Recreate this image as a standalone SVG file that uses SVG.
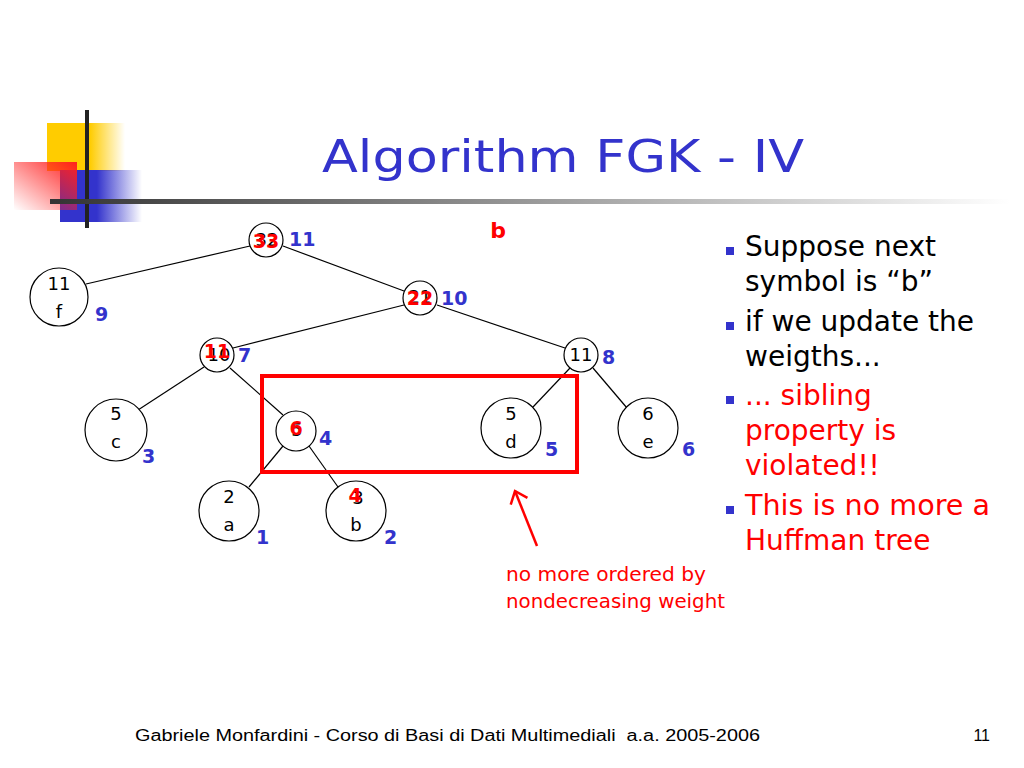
<svg xmlns="http://www.w3.org/2000/svg" width="1024" height="768" viewBox="0 0 1024 768">
<defs>
<linearGradient id="gY" x1="0" y1="0" x2="1" y2="0"><stop offset="0" stop-color="#FFCC00"/><stop offset="0.55" stop-color="#FFCC00"/><stop offset="1" stop-color="#FFCC00" stop-opacity="0"/></linearGradient>
<linearGradient id="gB" x1="0" y1="0" x2="1" y2="0"><stop offset="0" stop-color="#3333CC"/><stop offset="0.45" stop-color="#3333CC"/><stop offset="1" stop-color="#3333CC" stop-opacity="0"/></linearGradient>
<linearGradient id="gR" x1="1" y1="0" x2="0" y2="1"><stop offset="0" stop-color="#FF2020"/><stop offset="1" stop-color="#FF2020" stop-opacity="0"/></linearGradient>
<linearGradient id="gL" x1="0" y1="0" x2="1" y2="0"><stop offset="0" stop-color="#333333"/><stop offset="0.5" stop-color="#999999"/><stop offset="1" stop-color="#FFFFFF"/></linearGradient>
<marker id="ah" viewBox="0 0 24 24" refX="12" refY="12" markerWidth="24" markerHeight="24" markerUnits="userSpaceOnUse" orient="auto"><path d="M1,3 L12,12 L1,21" fill="none" stroke="#FF0000" stroke-width="2.5"/></marker>
<style>
.nd{fill:#fff;stroke:#000;stroke-width:1.2}
.lb{font-family:"DejaVu Sans",sans-serif;font-size:18px;fill:#000;text-anchor:middle}
.rd{font-family:"DejaVu Sans",sans-serif;font-size:19px;font-weight:bold;fill:#FF0000;text-anchor:middle}
.bl{font-family:"DejaVu Sans",sans-serif;font-size:19px;font-weight:bold;fill:#3333CC}
.ed{stroke:#000;stroke-width:1.2;fill:none}
.bt{font-family:"DejaVu Sans",sans-serif;font-size:28px}
.bq{fill:#3333CC}
</style>
</defs>
<rect width="1024" height="768" fill="#fff"/>
<g id="logo">
<rect x="47" y="123" width="78" height="48" fill="url(#gY)"/>
<rect x="60" y="170" width="82" height="52" fill="url(#gB)"/>
<rect x="14" y="162" width="63" height="48" fill="url(#gR)"/>
<rect x="85" y="110" width="4" height="118" fill="#222"/>
</g>
<rect x="50" y="199" width="960" height="5" fill="url(#gL)"/>
<text x="563" y="172" font-family="DejaVu Sans, sans-serif" font-size="44" fill="#3333CC" text-anchor="middle" textLength="482" lengthAdjust="spacingAndGlyphs">Algorithm FGK - IV</text>
<text x="498" y="238" font-family="DejaVu Sans, sans-serif" font-size="22" font-weight="bold" fill="#FF0000" text-anchor="middle">b</text>
<g id="connectors">
<line class="ed" x1="250" y1="246" x2="86" y2="284"/>
<line class="ed" x1="283" y1="246" x2="404" y2="291"/>
<line class="ed" x1="404" y1="305" x2="233" y2="348"/>
<line class="ed" x1="437" y1="305" x2="565" y2="348"/>
<line class="ed" x1="204" y1="367" x2="138" y2="410"/>
<line class="ed" x1="230" y1="368" x2="283" y2="415"/>
<line class="ed" x1="283" y1="446" x2="249" y2="487"/>
<line class="ed" x1="309" y1="446" x2="338" y2="487"/>
<line class="ed" x1="570" y1="368" x2="533" y2="407"/>
<line class="ed" x1="593" y1="368" x2="627" y2="408"/>
</g>
<g id="n_root"><circle class="nd" cx="266" cy="240" r="17"/><text class="lb" x="267" y="246">32</text><text class="rd" x="266" y="248">33</text><text class="bl" x="289" y="246">11</text></g>
<g id="n_f"><circle class="nd" cx="59" cy="297" r="29"/><text class="lb" x="59" y="290">11</text><text class="lb" x="59" y="318">f</text><text class="bl" x="95" y="321">9</text></g>
<g id="n_21"><circle class="nd" cx="420" cy="298" r="17"/><text class="lb" x="420" y="303">21</text><text class="rd" x="420" y="305">22</text><text class="bl" x="441" y="305">10</text></g>
<g id="n_11L"><circle class="nd" cx="217" cy="355" r="17"/><text class="lb" x="219" y="361">10</text><text class="rd" x="217" y="358">11</text><text class="bl" x="238" y="362">7</text></g>
<g id="n_11R"><circle class="nd" cx="581" cy="355" r="17"/><text class="lb" x="581" y="361">11</text><text class="bl" x="602" y="364">8</text></g>
<g id="n_c"><circle class="nd" cx="116" cy="430" r="31"/><text class="lb" x="116" y="420">5</text><text class="lb" x="116" y="448">c</text><text class="bl" x="142" y="463">3</text></g>
<g id="n_6"><circle class="nd" cx="296" cy="431" r="20"/><text class="lb" x="297" y="436">5</text><text class="rd" x="296" y="435">6</text><text class="bl" x="319" y="445">4</text></g>
<g id="n_d"><circle class="nd" cx="511" cy="428" r="30"/><text class="lb" x="511" y="420">5</text><text class="lb" x="511" y="448">d</text><text class="bl" x="545" y="456">5</text></g>
<g id="n_e"><circle class="nd" cx="648" cy="428" r="30"/><text class="lb" x="648" y="420">6</text><text class="lb" x="648" y="448">e</text><text class="bl" x="682" y="456">6</text></g>
<g id="n_a"><circle class="nd" cx="229" cy="511" r="30"/><text class="lb" x="229" y="503">2</text><text class="lb" x="229" y="531">a</text><text class="bl" x="256" y="544">1</text></g>
<g id="n_b"><circle class="nd" cx="356" cy="511" r="30"/><text class="lb" x="358" y="504">3</text><text class="rd" x="355" y="502">4</text><text class="lb" x="356" y="531">b</text><text class="bl" x="384" y="544">2</text></g>
<rect x="262" y="376" width="315" height="96" fill="none" stroke="#FF0000" stroke-width="4"/>
<line x1="537" y1="546" x2="515" y2="491" stroke="#FF0000" stroke-width="2.5" marker-end="url(#ah)"/>
<g font-family="DejaVu Sans, sans-serif" font-size="19" fill="#FF0000">
<text x="506" y="581" textLength="200" lengthAdjust="spacingAndGlyphs">no more ordered by</text>
<text x="506" y="608" textLength="219" lengthAdjust="spacingAndGlyphs">nondecreasing weight</text>
</g>
<g id="bullets">
<rect class="bq" x="726" y="247" width="8" height="8"/>
<rect class="bq" x="726" y="322" width="8" height="8"/>
<rect class="bq" x="726" y="396" width="8" height="8"/>
<rect class="bq" x="726" y="506" width="8" height="8"/>
<text class="bt" x="745" y="256" fill="#000">Suppose next</text>
<text class="bt" x="745" y="291" fill="#000">symbol is “b”</text>
<text class="bt" x="745" y="331" fill="#000">if we update the</text>
<text class="bt" x="745" y="366" fill="#000">weigths...</text>
<text class="bt" x="745" y="405" fill="#FF0000">... sibling</text>
<text class="bt" x="745" y="440" fill="#FF0000">property is</text>
<text class="bt" x="745" y="475" fill="#FF0000">violated!!</text>
<text class="bt" x="745" y="515" fill="#FF0000" textLength="245" lengthAdjust="spacingAndGlyphs">This is no more a</text>
<text class="bt" x="745" y="550" fill="#FF0000">Huffman tree</text>
</g>
<text x="135" y="741" font-family="Liberation Sans, Arial, sans-serif" font-size="16" fill="#000" textLength="625" lengthAdjust="spacingAndGlyphs">Gabriele Monfardini - Corso di Basi di Dati Multimediali&#160; a.a. 2005-2006</text>
<text x="990" y="741" font-family="Liberation Sans, Arial, sans-serif" font-size="16" fill="#000" text-anchor="end">11</text>
</svg>
